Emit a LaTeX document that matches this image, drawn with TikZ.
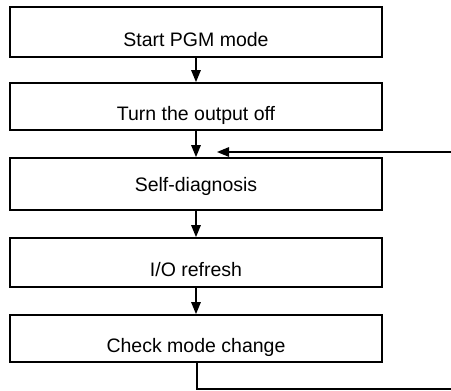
\documentclass[tikz,border=0pt]{standalone}
\usepackage{fontspec}
\setmainfont{Liberation Sans}
\usetikzlibrary{arrows.meta}
\newcommand{\lowtext}[2]{\raisebox{-#1}[0pt][0pt]{#2}}
\begin{document}
\begin{tikzpicture}[x=1pt,y=-1pt,
  box/.style={draw,line width=1.8pt,minimum width=372pt,inner sep=0pt,
    font=\fontsize{19.5}{22}\selectfont},
  flow/.style={line width=1.4pt,-{Triangle[length=12pt,width=9.5pt]}},
  plain/.style={line width=1.4pt}]
\useasboundingbox (0,0) rectangle (451,391);
\node[box,minimum height=50pt] (b1) at (196,32) {\lowtext{14pt}{Start PGM mode}};
\node[box,minimum height=47pt] (b2) at (196,106.5) {\lowtext{14pt}{Turn the output off}};
\node[box,minimum height=52pt] (b3) at (196,184) {\lowtext{7pt}{Self-diagnosis}};
\node[box,minimum height=49pt] (b4) at (196,262.5) {\lowtext{14pt}{I/O refresh}};
\node[box,minimum height=47pt] (b5) at (196,338.5) {\lowtext{14pt}{Check mode change}};
\coordinate (fbin) at (451,152);
\coordinate (fbend) at (217,152);
\coordinate (outturn) at (197,389);
\coordinate (outend) at (451,389);
\draw[flow] (b1) -- (b2);
\draw[flow] (b2) -- (b3);
\draw[flow] (b3) -- (b4);
\draw[flow] (b4) -- (b5);
\draw[flow] (fbin) -- (fbend);
\draw[plain] (b5.south -| outturn) -- (outturn) -- (outend);
\end{tikzpicture}
\end{document}
